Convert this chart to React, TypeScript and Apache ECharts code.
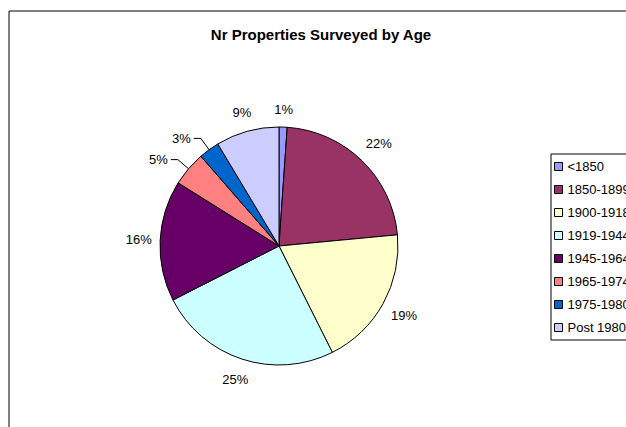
import React, { useEffect, useRef } from "react";
import * as echarts from "echarts";

const categories = ["<1850", "1850-1899", "1900-1918", "1919-1944", "1945-1964", "1965-1974", "1975-1980", "Post 1980"];
// shares (%); labels show them rounded
const shares = [1.1, 22.4, 19.1, 24.9, 16.4, 4.7, 2.8, 8.6];
const colors = ["#9999FF", "#993366", "#FFFFCC", "#CCFFFF", "#660066", "#FF8080", "#0066CC", "#CCCCFF"];
const leaderLines = [false, false, false, false, false, true, true, false];

const FONT = "'Liberation Sans', Arial, sans-serif";
const CX = 279;
const CY = 246;
const R = 119;

export default function App() {
  const ref = useRef<HTMLDivElement>(null);
  useEffect(() => {
    if (!ref.current) return;
    const chart = echarts.init(ref.current, undefined, { renderer: "svg" });
    const total = shares.reduce((a, b) => a + b, 0);
    const starts: number[] = [];
    shares.reduce((acc, v) => {
      starts.push(acc);
      return acc + v;
    }, 0);
    chart.setOption({
      animation: false,
      backgroundColor: "#ffffff",
      title: {
        text: "Nr Properties Surveyed by Age",
        left: 316,
        top: 22,
        textAlign: "center",
        textStyle: { fontFamily: FONT, fontSize: 15, fontWeight: "bold", color: "#000" },
      },
      graphic: [
        {
          type: "rect",
          shape: { x: 9, y: 11, width: 700, height: 500 },
          style: { fill: "none", stroke: "#000", lineWidth: 1 },
          silent: true,
        },
      ],
      legend: {
        orient: "vertical",
        left: 551,
        top: 154,
        data: categories,
        icon: "rect",
        itemWidth: 8,
        itemHeight: 8,
        itemGap: 10,
        padding: [6, 40, 6, 3],
        borderColor: "#000",
        borderWidth: 1,
        textStyle: { fontFamily: FONT, fontSize: 13, color: "#000" },
        itemStyle: { borderColor: "#000", borderWidth: 1 },
      },
      series: [
        {
          type: "pie",
          center: [CX, CY],
          radius: R,
          startAngle: 90,
          clockwise: true,
          percentPrecision: 0,
          avoidLabelOverlap: false,
          itemStyle: { borderColor: "#000", borderWidth: 1 },
          label: {
            show: true,
            position: "outside",
            formatter: "{d}%",
            fontFamily: FONT,
            fontSize: 13,
            color: "#000",
            distanceToLabelLine: 3,
          },
          labelLine: { show: true, length: 14, length2: 7, lineStyle: { color: "#000", width: 1 } },
          labelLayout: (params: any) => {
            const i = params.dataIndex;
            if (leaderLines[i]) return {};
            const theta = (2 * Math.PI * (starts[i] + shares[i] / 2)) / total;
            const ux = Math.sin(theta);
            const uy = -Math.cos(theta);
            const w = params.labelRect.width;
            const h = params.labelRect.height;
            const dist = R + 8 + 3 * Math.abs(uy) + (w / 2) * Math.abs(ux) + (h / 2) * Math.abs(uy);
            return { x: CX + ux * dist, y: CY + uy * dist, align: "center", verticalAlign: "middle" };
          },
          emphasis: { disabled: true },
          data: categories.map((name, i) => ({
            name,
            value: shares[i],
            itemStyle: { color: colors[i] },
            labelLine: { show: leaderLines[i] },
          })),
        },
      ],
    });
    return () => chart.dispose();
  }, []);
  return <div ref={ref} style={{ position: "absolute", left: 0, top: 0, width: 626, height: 427 }} />;
}
